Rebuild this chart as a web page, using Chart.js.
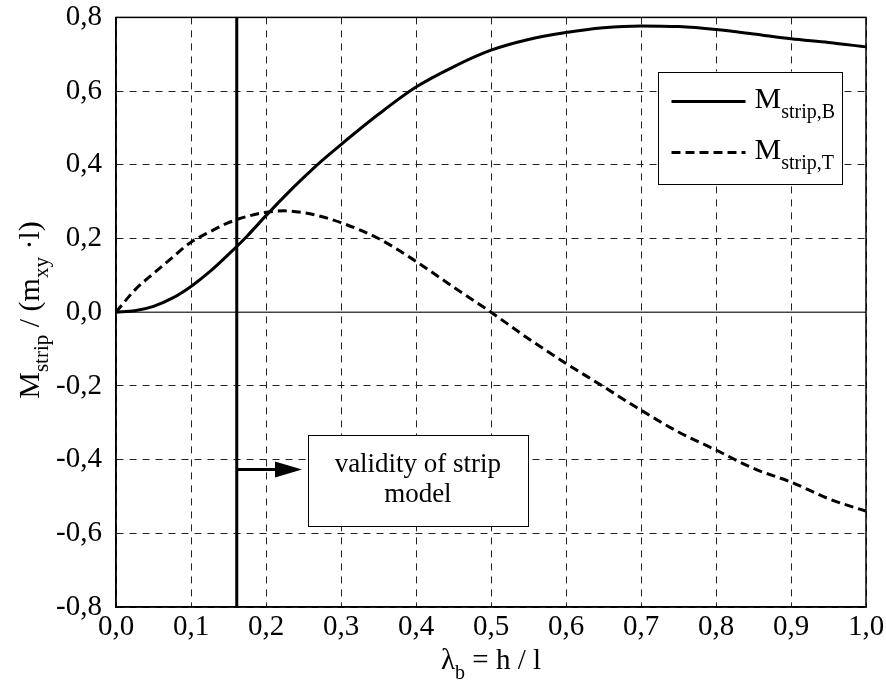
<!DOCTYPE html>
<html>
<head>
<meta charset="utf-8">
<script src="https://cdn.jsdelivr.net/npm/chart.js@4.4.1/dist/chart.umd.min.js"></script>
<style>
  html, body { margin: 0; background: #fff; }
  #wrap { width: 886px; height: 685px; }
</style>
</head>
<body>
<div id="wrap"><canvas id="stripChart" width="886" height="685"></canvas></div>
<script>
// slenderness values lambda_b = h / l
const lambda = [0, 0.025, 0.05, 0.075, 0.1, 0.125, 0.15, 0.175, 0.2, 0.225, 0.25, 0.275, 0.3,
  0.35, 0.4, 0.45, 0.5, 0.55, 0.6, 0.65, 0.7, 0.75, 0.8, 0.85, 0.9, 0.95, 1.0];
// M_strip,B (solid)
const mStripB = [0, 0.004, 0.016, 0.038, 0.07, 0.11, 0.157, 0.207, 0.262, 0.315, 0.365, 0.412, 0.455,
  0.537, 0.611, 0.666, 0.711, 0.740, 0.759, 0.772, 0.777, 0.775, 0.767, 0.755, 0.742, 0.732, 0.72];
// M_strip,T (dashed)
const mStripT = [0, 0.06, 0.105, 0.148, 0.19, 0.218, 0.243, 0.26, 0.271, 0.275, 0.27, 0.259, 0.243,
  0.20, 0.138, 0.068, 0.0, -0.072, -0.139, -0.202, -0.266, -0.325, -0.374, -0.424, -0.461, -0.506, -0.54];

const seriesNames = [['M', 'strip,B'], ['M', 'strip,T']];
const validityLambda = 0.161;
const validityText = ['validity of strip', 'model'];

const serif = 'Liberation Serif, Times New Roman, serif';
Chart.defaults.font.family = serif;

const fmt = v => (Math.round(v * 10) / 10).toFixed(1).replace('.', ',');

// draw text runs with subscripts, left aligned at baseline
function runsWidth(ctx, runs, size, subSize) {
  let w = 0;
  runs.forEach(r => {
    ctx.font = (r[1] ? subSize : size) + 'px ' + serif;
    w += ctx.measureText(r[0]).width;
  });
  return w;
}
function drawRuns(ctx, runs, x, y, size, subSize, subShift) {
  runs.forEach(r => {
    ctx.font = (r[1] ? subSize : size) + 'px ' + serif;
    ctx.fillText(r[0], x, y + (r[1] ? subShift : 0));
    x += ctx.measureText(r[0]).width;
  });
}

const overlay = {
  id: 'overlay',
  beforeDatasetsDraw(chart) {
    const { ctx, chartArea: a, scales: { y } } = chart;
    // solid zero line
    ctx.save();
    ctx.strokeStyle = '#444';
    ctx.lineWidth = 1.5;
    ctx.beginPath();
    ctx.moveTo(a.left, y.getPixelForValue(0));
    ctx.lineTo(a.right, y.getPixelForValue(0));
    ctx.stroke();
    ctx.restore();
  },
  afterDraw(chart) {
    const { ctx, chartArea: a, scales: { x, y } } = chart;
    ctx.save();
    ctx.fillStyle = '#000';
    ctx.strokeStyle = '#000';
    ctx.textBaseline = 'alphabetic';

    // frame
    ctx.lineWidth = 1.5;
    ctx.strokeRect(a.left, a.top, a.right - a.left, a.bottom - a.top);

    // arrow from validity line
    const ay = y.getPixelForValue(-0.427);
    const ax0 = x.getPixelForValue(validityLambda);
    const ax1 = x.getPixelForValue(0.248);
    ctx.lineWidth = 3;
    ctx.beginPath();
    ctx.moveTo(ax0, ay);
    ctx.lineTo(ax1 - 20, ay);
    ctx.stroke();
    ctx.beginPath();
    ctx.moveTo(ax1, ay);
    ctx.lineTo(ax1 - 27, ay - 8);
    ctx.lineTo(ax1 - 27, ay + 8);
    ctx.closePath();
    ctx.fill();

    // annotation box
    const bx0 = x.getPixelForValue(0.256), bx1 = x.getPixelForValue(0.549);
    const by0 = y.getPixelForValue(-0.334), by1 = y.getPixelForValue(-0.581);
    ctx.fillStyle = '#fff';
    ctx.fillRect(bx0, by0, bx1 - bx0, by1 - by0);
    ctx.lineWidth = 1;
    ctx.strokeRect(Math.round(bx0) + 0.5, Math.round(by0) + 0.5, Math.round(bx1 - bx0), Math.round(by1 - by0));
    ctx.fillStyle = '#000';
    ctx.textAlign = 'center';
    ctx.font = '27px ' + serif;
    ctx.fillText(validityText[0], (bx0 + bx1) / 2, by0 + 37);
    ctx.fillText(validityText[1], (bx0 + bx1) / 2, by0 + 67);
    ctx.textAlign = 'left';

    // legend box
    const lx0 = x.getPixelForValue(0.722), lx1 = x.getPixelForValue(0.967);
    const ly0 = y.getPixelForValue(0.653), ly1 = y.getPixelForValue(0.348);
    ctx.fillStyle = '#fff';
    ctx.fillRect(lx0, ly0, lx1 - lx0, ly1 - ly0);
    ctx.lineWidth = 1;
    ctx.strokeRect(Math.round(lx0) + 0.5, Math.round(ly0) + 0.5, Math.round(lx1 - lx0), Math.round(ly1 - ly0));
    ctx.fillStyle = '#000';
    chart.data.datasets.slice(0, 2).forEach((ds, i) => {
      const rowY = ly0 + 30 + i * 51;
      ctx.lineWidth = 3;
      ctx.setLineDash(ds.borderDash || []);
      ctx.beginPath();
      ctx.moveTo(lx0 + 14, rowY);
      ctx.lineTo(lx0 + 88, rowY);
      ctx.stroke();
      ctx.setLineDash([]);
      const n = seriesNames[i];
      drawRuns(ctx, [[n[0], 0], [n[1], 1]], lx0 + 97, rowY + 6, 30, 20, 10);
    });

    // x axis title
    const xRuns = [['\u03bb', 0], ['b', 1], [' = h / l', 0]];
    const xw = runsWidth(ctx, xRuns, 29, 20);
    drawRuns(ctx, xRuns, (a.left + a.right) / 2 - xw / 2, 669, 29, 20, 10);

    // y axis title (rotated)
    const yRuns = [['M', 0], ['strip', 1], [' / (m', 0], ['xy', 1], [' \u00b7l)', 0]];
    const yw = runsWidth(ctx, yRuns, 30, 21);
    ctx.translate(39, 310);
    ctx.rotate(-Math.PI / 2);
    drawRuns(ctx, yRuns, -yw / 2, 0, 30, 21, 9);
    ctx.restore();
  }
};

const pts = vals => lambda.map((l, i) => ({ x: l, y: vals[i] }));

new Chart(document.getElementById('stripChart').getContext('2d'), {
  type: 'line',
  data: {
    datasets: [
      { label: 'M_strip,B', data: pts(mStripB), borderColor: '#000', borderWidth: 3,
        pointRadius: 0, cubicInterpolationMode: 'monotone', fill: false },
      { label: 'M_strip,T', data: pts(mStripT), borderColor: '#000', borderWidth: 3, borderDash: [9, 5],
        pointRadius: 0, cubicInterpolationMode: 'monotone', fill: false },
      { label: 'validity limit', data: [{ x: validityLambda, y: -0.8 }, { x: validityLambda, y: 0.8 }],
        borderColor: '#000', borderWidth: 3, pointRadius: 0, fill: false }
    ]
  },
  options: {
    responsive: false,
    animation: false,
    layout: { padding: { top: 0, right: 20, left: 0, bottom: 0 } },
    plugins: { legend: { display: false }, tooltip: { enabled: false } },
    scales: {
      x: {
        type: 'linear', min: 0, max: 1,
        ticks: { stepSize: 0.1, color: '#000', font: { size: 29 }, padding: 0, maxRotation: 0,
          autoSkip: false, callback: v => fmt(v) },
        grid: { color: '#222', lineWidth: 1, drawTicks: true, tickLength: 3, tickColor: 'rgba(0,0,0,0)' },
        border: { display: true, color: '#000', width: 1.5, dash: [7, 6] },
        afterFit: s => { s.height = 78; }
      },
      y: {
        min: -0.8, max: 0.8,
        ticks: { stepSize: 0.2, color: '#000', font: { size: 29 }, padding: 0, autoSkip: false,
          callback: v => fmt(v) },
        grid: { color: '#222', lineWidth: 1, drawTicks: true, tickLength: 14, tickColor: 'rgba(0,0,0,0)' },
        border: { display: true, color: '#000', width: 1.5, dash: [7, 6] },
        afterFit: s => { s.width = 116; }
      }
    }
  },
  plugins: [overlay]
});
</script>
</body>
</html>
